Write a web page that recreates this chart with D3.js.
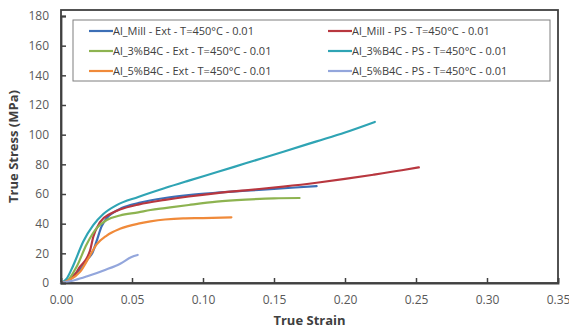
<!DOCTYPE html>
<html>
<head>
<meta charset="utf-8">
<script src="https://cdn.jsdelivr.net/npm/d3@7"></script>
<style>
  body { margin: 0; background: #fff; }
  svg { display: block; font-family: "Open Sans", "Liberation Sans", sans-serif; }
</style>
</head>
<body>
<svg id="chart"></svg>
<script>
const width = 569, height = 329

// true strain / true stress (MPa)
const millExt = [[0,0],[0.005,1.5],[0.010,6],[0.015,11],[0.0195,17],[0.022,20],[0.025,28],[0.0285,38],[0.032,43.5],[0.036,47],[0.0427,50.5],[0.055,54],[0.0732,57.3],[0.09,59.3],[0.11,60.9],[0.13,62.2],[0.15,63.4],[0.165,64.4],[0.180,65.3]]
const millPS = [[0,0],[0.005,1.5],[0.010,6],[0.0134,11],[0.018,16.5],[0.0205,22],[0.0227,31],[0.0275,41],[0.0345,46.5],[0.0415,49.5],[0.055,53],[0.0732,56],[0.09,58.3],[0.11,60.6],[0.13,62.5],[0.1566,65],[0.18,67.6],[0.20,70.2],[0.22,73],[0.24,76],[0.252,78]]
const ext3 = [[0,0],[0.005,2],[0.011,11],[0.018,26],[0.0251,37],[0.0322,42.5],[0.0415,45.5],[0.0544,47.6],[0.063,49.2],[0.0732,50.5],[0.09,52.6],[0.1096,54.8],[0.13,56.2],[0.15,57.1],[0.168,57.3]]
const ps3 = [[0,0],[0.004,3],[0.0087,12],[0.0157,28],[0.0227,39],[0.0298,46.5],[0.0392,52.5],[0.0544,58],[0.0732,64],[0.09,69],[0.11,74.8],[0.13,80.7],[0.1566,88.5],[0.18,95.5],[0.20,101.5],[0.221,108.6]]
const ext5 = [[0,0],[0.006,2],[0.0134,7.5],[0.0204,18.5],[0.0251,26],[0.0322,32],[0.0415,36.5],[0.0544,40],[0.063,41.5],[0.0732,42.8],[0.086,43.6],[0.10,43.8],[0.12,44.3]]
const ps5 = [[0,0],[0.01,2],[0.019,4.7],[0.031,8.8],[0.042,13.2],[0.0497,17.5],[0.054,18.9]]

const seriesNames = [
  "Al_Mill - Ext - T=450°C - 0.01", "Al_Mill - PS - T=450°C - 0.01",
  "Al_3%B4C - Ext - T=450°C - 0.01", "Al_3%B4C - PS - T=450°C - 0.01",
  "Al_5%B4C - Ext - T=450°C - 0.01", "Al_5%B4C - PS - T=450°C - 0.01"
]
const seriesData = [millExt, millPS, ext3, ps3, ext5, ps5]
const seriesColors = ["#3c6fb6", "#b8373f", "#8db350", "#2fa4b4", "#f08a3a", "#93a6dc"]

const xTicks = [0, 0.05, 0.10, 0.15, 0.20, 0.25, 0.30, 0.35]
const yTicks = [0, 20, 40, 60, 80, 100, 120, 140, 160, 180]

const plotLeft = 61, plotRight = 558, plotTop = 10, plotBottom = 283

const svg = d3.select("#chart")
    .attr("width", width)
    .attr("height", height)

let x = d3.scaleLinear().domain([0, 0.35]).range([plotLeft, plotRight])
let y = d3.scaleLinear().domain([0, 180]).range([plotBottom, 16])

// frame
svg.append("rect")
    .attr("x", plotLeft).attr("y", plotTop)
    .attr("width", plotRight - plotLeft).attr("height", plotBottom - plotTop)
    .attr("fill", "none")
    .attr("stroke", "#404040")
    .attr("stroke-width", 1.8)

let line = d3.line()
    .x(d => x(d[0]))
    .y(d => y(d[1]))
    .curve(d3.curveMonotoneX)

svg.append("g")
    .selectAll("path")
    .data(seriesData)
    .enter()
    .append("path")
    .attr("d", d => line(d))
    .attr("fill", "none")
    .attr("stroke", (d, i) => seriesColors[i])
    .attr("stroke-width", 2.2)
    .attr("stroke-linejoin", "round")
    .attr("stroke-linecap", "round")

let xAxis = svg.append("g")
    .attr("transform", "translate(0," + plotBottom + ")")
    .call(d3.axisBottom(x).tickValues(xTicks).tickFormat(d3.format(".2f"))
        .tickSize(-5).tickPadding(12))
let yAxis = svg.append("g")
    .attr("transform", "translate(" + plotLeft + ",0)")
    .call(d3.axisLeft(y).tickValues(yTicks).tickSize(-5).tickPadding(12))

for (let ax of [xAxis, yAxis]) {
    ax.select(".domain").attr("stroke", "#404040").attr("stroke-width", 1.8)
    ax.selectAll(".tick line").attr("stroke", "#404040").attr("stroke-width", 1.5)
    ax.selectAll(".tick text")
        .attr("fill", "#595959")
        .style("font-size", "12px")
        .style("font-family", "'Open Sans', sans-serif")
}
yAxis.selectAll(".tick").filter(d => d == 0).select("line").remove()
xAxis.selectAll(".tick").filter(d => d == 0).select("line").remove()

svg.append("text")
    .attr("x", (plotLeft + plotRight) / 2)
    .attr("y", 325)
    .attr("text-anchor", "middle")
    .attr("fill", "#404040")
    .style("font-size", "13px")
    .style("font-weight", "bold")
    .text("True Strain")

svg.append("text")
    .attr("transform", "translate(18," + (plotTop + plotBottom) / 2 + ") rotate(-90)")
    .attr("text-anchor", "middle")
    .attr("fill", "#404040")
    .style("font-size", "13px")
    .style("font-weight", "bold")
    .text("True Stress (MPa)")

// legend
let legend = svg.append("g")
legend.append("rect")
    .attr("x", 73).attr("y", 20)
    .attr("width", 477).attr("height", 61)
    .attr("fill", "#fff")
    .attr("stroke", "#7f7f7f")
    .attr("stroke-width", 1)

let item = legend.selectAll("g.item")
    .data(seriesNames)
    .enter()
    .append("g")
    .attr("transform", (d, i) => "translate(" + (i % 2 == 0 ? 89 : 328) + "," + (31 + Math.floor(i / 2) * 20) + ")")

item.append("line")
    .attr("x1", 0).attr("x2", 24)
    .attr("stroke", (d, i) => seriesColors[i])
    .attr("stroke-width", 2.2)

item.append("text")
    .attr("x", 24)
    .attr("dy", "0.35em")
    .attr("fill", "#404040")
    .style("font-size", "11px")
    .text(d => d)
</script>
</body>
</html>
